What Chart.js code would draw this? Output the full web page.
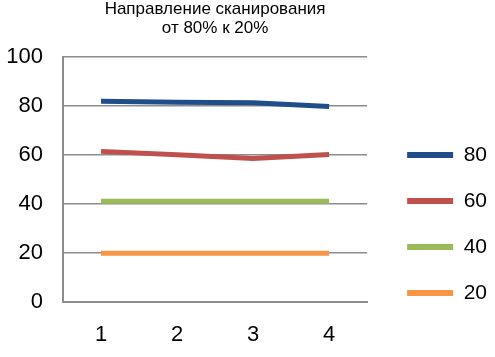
<!DOCTYPE html>
<html>
<head>
<meta charset="utf-8">
<script src="https://cdn.jsdelivr.net/npm/chart.js@4/dist/chart.umd.min.js"></script>
<style>
html,body{margin:0;padding:0;background:#fff;}
#wrap{width:495px;height:357px;position:relative;}
</style>
</head>
<body>
<div id="wrap"><canvas id="c" width="495" height="357"></canvas></div>
<script>
const categories = ['1', '2', '3', '4'];
const seriesNames = ['80', '60', '40', '20'];
const series80 = [82.0, 81.6, 81.4, 79.8];
const series60 = [61.5, 60.1, 58.6, 60.2];
const series40 = [41.1, 41.1, 41.1, 41.1];
const series20 = [19.9, 19.9, 19.9, 19.9];
const yTicks = [0, 20, 40, 60, 80, 100];
const titleLines = ['Направление сканирования', 'от 80% к 20%'];

const colors = ['#1F4E8A', '#C0504D', '#9BBB59', '#F79646'];
const values = [series80, series60, series40, series20];

const FONT = '"Liberation Sans", Arial, sans-serif';

// nudge the legend box away from the plot (gap between plot and legend)
const legendShift = {
  id: 'legendShift',
  afterLayout(chart) {
    const lg = chart.legend;
    if (!lg) return;
    const dx = 15, dy = 45.5;
    lg.left += dx; lg.right += dx;
    lg.top += dy; lg.bottom += dy;
  }
};

new Chart(document.getElementById('c'), {
  type: 'line',
  data: {
    labels: categories,
    datasets: values.map((v, i) => ({
      label: seriesNames[i],
      data: v,
      borderColor: colors[i],
      backgroundColor: colors[i],
      borderWidth: 5,
      pointRadius: 0,
      tension: 0,
      fill: false
    }))
  },
  plugins: [legendShift],
  options: {
    responsive: false,
    animation: false,
    layout: { padding: { left: 0, right: 13, top: 0, bottom: 0 } },
    plugins: {
      title: {
        display: true,
        text: titleLines,
        fullSize: false,
        color: '#000',
        font: { family: FONT, size: 17, weight: 'normal', lineHeight: 1.12 },
        padding: { top: 0, bottom: 19 }
      },
      legend: {
        position: 'right',
        labels: {
          color: '#000',
          font: { family: FONT, size: 21 },
          boxWidth: 46,
          boxHeight: 6,
          padding: 25,
          generateLabels: (chart) => chart.data.datasets.map((d, i) => ({
            text: d.label,
            fillStyle: d.borderColor,
            strokeStyle: d.borderColor,
            lineWidth: 0,
            datasetIndex: i
          }))
        }
      },
      tooltip: { enabled: false }
    },
    scales: {
      x: {
        offset: true,
        grid: { display: false, drawTicks: false },
        border: { display: true, color: '#8C8C8C', width: 2 },
        ticks: { color: '#000', font: { family: FONT, size: 22 }, padding: 20 },
        afterFit: (s) => { s.height = 55; }
      },
      y: {
        min: 0,
        max: 100,
        afterBuildTicks: (axis) => { axis.ticks = yTicks.map(v => ({ value: v })); },
        grid: { color: '#8C8C8C', lineWidth: 1.5, drawTicks: false },
        border: { display: true, color: '#8C8C8C', width: 2 },
        ticks: { color: '#000', font: { family: FONT, size: 22 }, padding: 20 },
        afterFit: (s) => { s.width = 63; }
      }
    }
  }
});
</script>
</body>
</html>
